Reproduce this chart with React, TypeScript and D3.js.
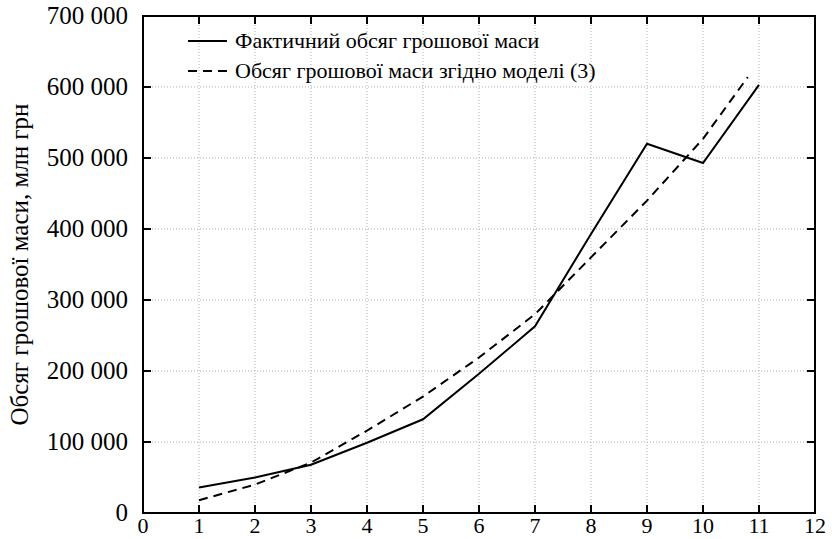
import * as d3 from 'd3';
import React, { useEffect, useRef } from 'react';

const W = 832;
const H = 539;

// x positions (periods)
const actualX = [1, 2, 3, 4, 5, 6, 7, 8, 9, 10, 11];
const actualY = [36000, 50000, 68000, 99000, 132000, 196000, 263000, 393000, 520000, 493000, 603000];

const modelX = [1, 2, 3, 4, 5, 6, 7, 8, 9, 10, 10.8];
const modelY = [18000, 40000, 71000, 116000, 164000, 219000, 280000, 360000, 440000, 527000, 614000];

const xTicks = [0, 1, 2, 3, 4, 5, 6, 7, 8, 9, 10, 11, 12];
const yTicks = [0, 100000, 200000, 300000, 400000, 500000, 600000, 700000];

const legendLabels = ['Фактичний обсяг грошової маси', 'Обсяг грошової маси згідно моделі (3)'];
const yTitle = 'Обсяг грошової маси, млн грн';

const font = "'Liberation Serif', Tinos, 'Times New Roman', serif";

export default function App() {
    const ref = useRef<SVGSVGElement>(null);

    useEffect(() => {
        const svg = d3.select(ref.current);
        svg.selectAll('*').remove();

        const left = 143, right = 815, top = 16, bottom = 513;
        const x = d3.scaleLinear().domain([0, 12]).range([left, right]);
        const y = d3.scaleLinear().domain([0, 700000]).range([bottom, top]);
        const fmt = (v: number) => d3.format(',')(v).replace(/,/g, ' ');

        // grid
        const grid = svg.append('g')
            .attr('stroke', '#b0b0b0')
            .attr('stroke-width', 1)
            .attr('stroke-dasharray', '1,2');
        grid.selectAll('.gx')
            .data(xTicks.slice(1, -1))
            .enter().append('line')
            .attr('x1', d => x(d)).attr('x2', d => x(d))
            .attr('y1', top).attr('y2', bottom);
        grid.selectAll('.gy')
            .data(yTicks.slice(1, -1))
            .enter().append('line')
            .attr('x1', left).attr('x2', right)
            .attr('y1', d => y(d)).attr('y2', d => y(d));

        // ticks, inward on all sides
        const tk = svg.append('g').attr('stroke', '#000').attr('stroke-width', 2);
        const tl = 8;
        xTicks.slice(1, -1).forEach(d => {
            tk.append('line').attr('x1', x(d)).attr('x2', x(d)).attr('y1', bottom).attr('y2', bottom - tl);
            tk.append('line').attr('x1', x(d)).attr('x2', x(d)).attr('y1', top).attr('y2', top + tl);
        });
        yTicks.slice(1, -1).forEach(d => {
            tk.append('line').attr('x1', left).attr('x2', left + tl).attr('y1', y(d)).attr('y2', y(d));
            tk.append('line').attr('x1', right).attr('x2', right - tl).attr('y1', y(d)).attr('y2', y(d));
        });

        // frame
        svg.append('rect')
            .attr('x', left).attr('y', top)
            .attr('width', right - left).attr('height', bottom - top)
            .attr('fill', 'none').attr('stroke', '#000').attr('stroke-width', 2);

        const txt = (size: number) => (sel: any) =>
            sel.style('font-family', font).style('font-size', `${size}px`).attr('fill', '#000');

        // tick labels
        svg.append('g').selectAll('text')
            .data(xTicks)
            .enter().append('text')
            .attr('x', d => x(d)).attr('y', bottom + 20)
            .attr('text-anchor', 'middle')
            .call(txt(22))
            .text(d => d);
        svg.append('g').selectAll('text')
            .data(yTicks)
            .enter().append('text')
            .attr('x', left - 15).attr('y', d => y(d) + 8)
            .attr('text-anchor', 'end')
            .call(txt(25))
            .text(d => fmt(d));

        // axis title
        svg.append('text')
            .attr('transform', `translate(28, ${(top + bottom) / 2}) rotate(-90)`)
            .attr('text-anchor', 'middle')
            .call(txt(25))
            .text(yTitle);

        // lines
        const line = d3.line<[number, number]>()
            .x(d => x(d[0]))
            .y(d => y(d[1]));

        svg.append('path')
            .datum(actualX.map((v, i) => [v, actualY[i]] as [number, number]))
            .attr('d', line)
            .attr('fill', 'none').attr('stroke', '#000').attr('stroke-width', 2);

        svg.append('path')
            .datum(modelX.map((v, i) => [v, modelY[i]] as [number, number]))
            .attr('d', line)
            .attr('fill', 'none').attr('stroke', '#000').attr('stroke-width', 2)
            .attr('stroke-dasharray', '9,6');

        // legend
        const lg = svg.append('g');
        legendLabels.forEach((label, i) => {
            const ly = 41 + i * 30;
            lg.append('line')
                .attr('x1', 188).attr('x2', 227)
                .attr('y1', ly).attr('y2', ly)
                .attr('stroke', '#000').attr('stroke-width', 2)
                .attr('stroke-dasharray', i === 1 ? '9,6' : null);
            lg.append('text')
                .attr('x', 235).attr('y', ly + 7)
                .call(txt(22))
                .text(label);
        });
    }, []);

    return (
        <svg ref={ref} width={W} height={H}
            style={{ position: 'absolute', left: 0, top: 0, background: '#fff' }} />
    );
}
